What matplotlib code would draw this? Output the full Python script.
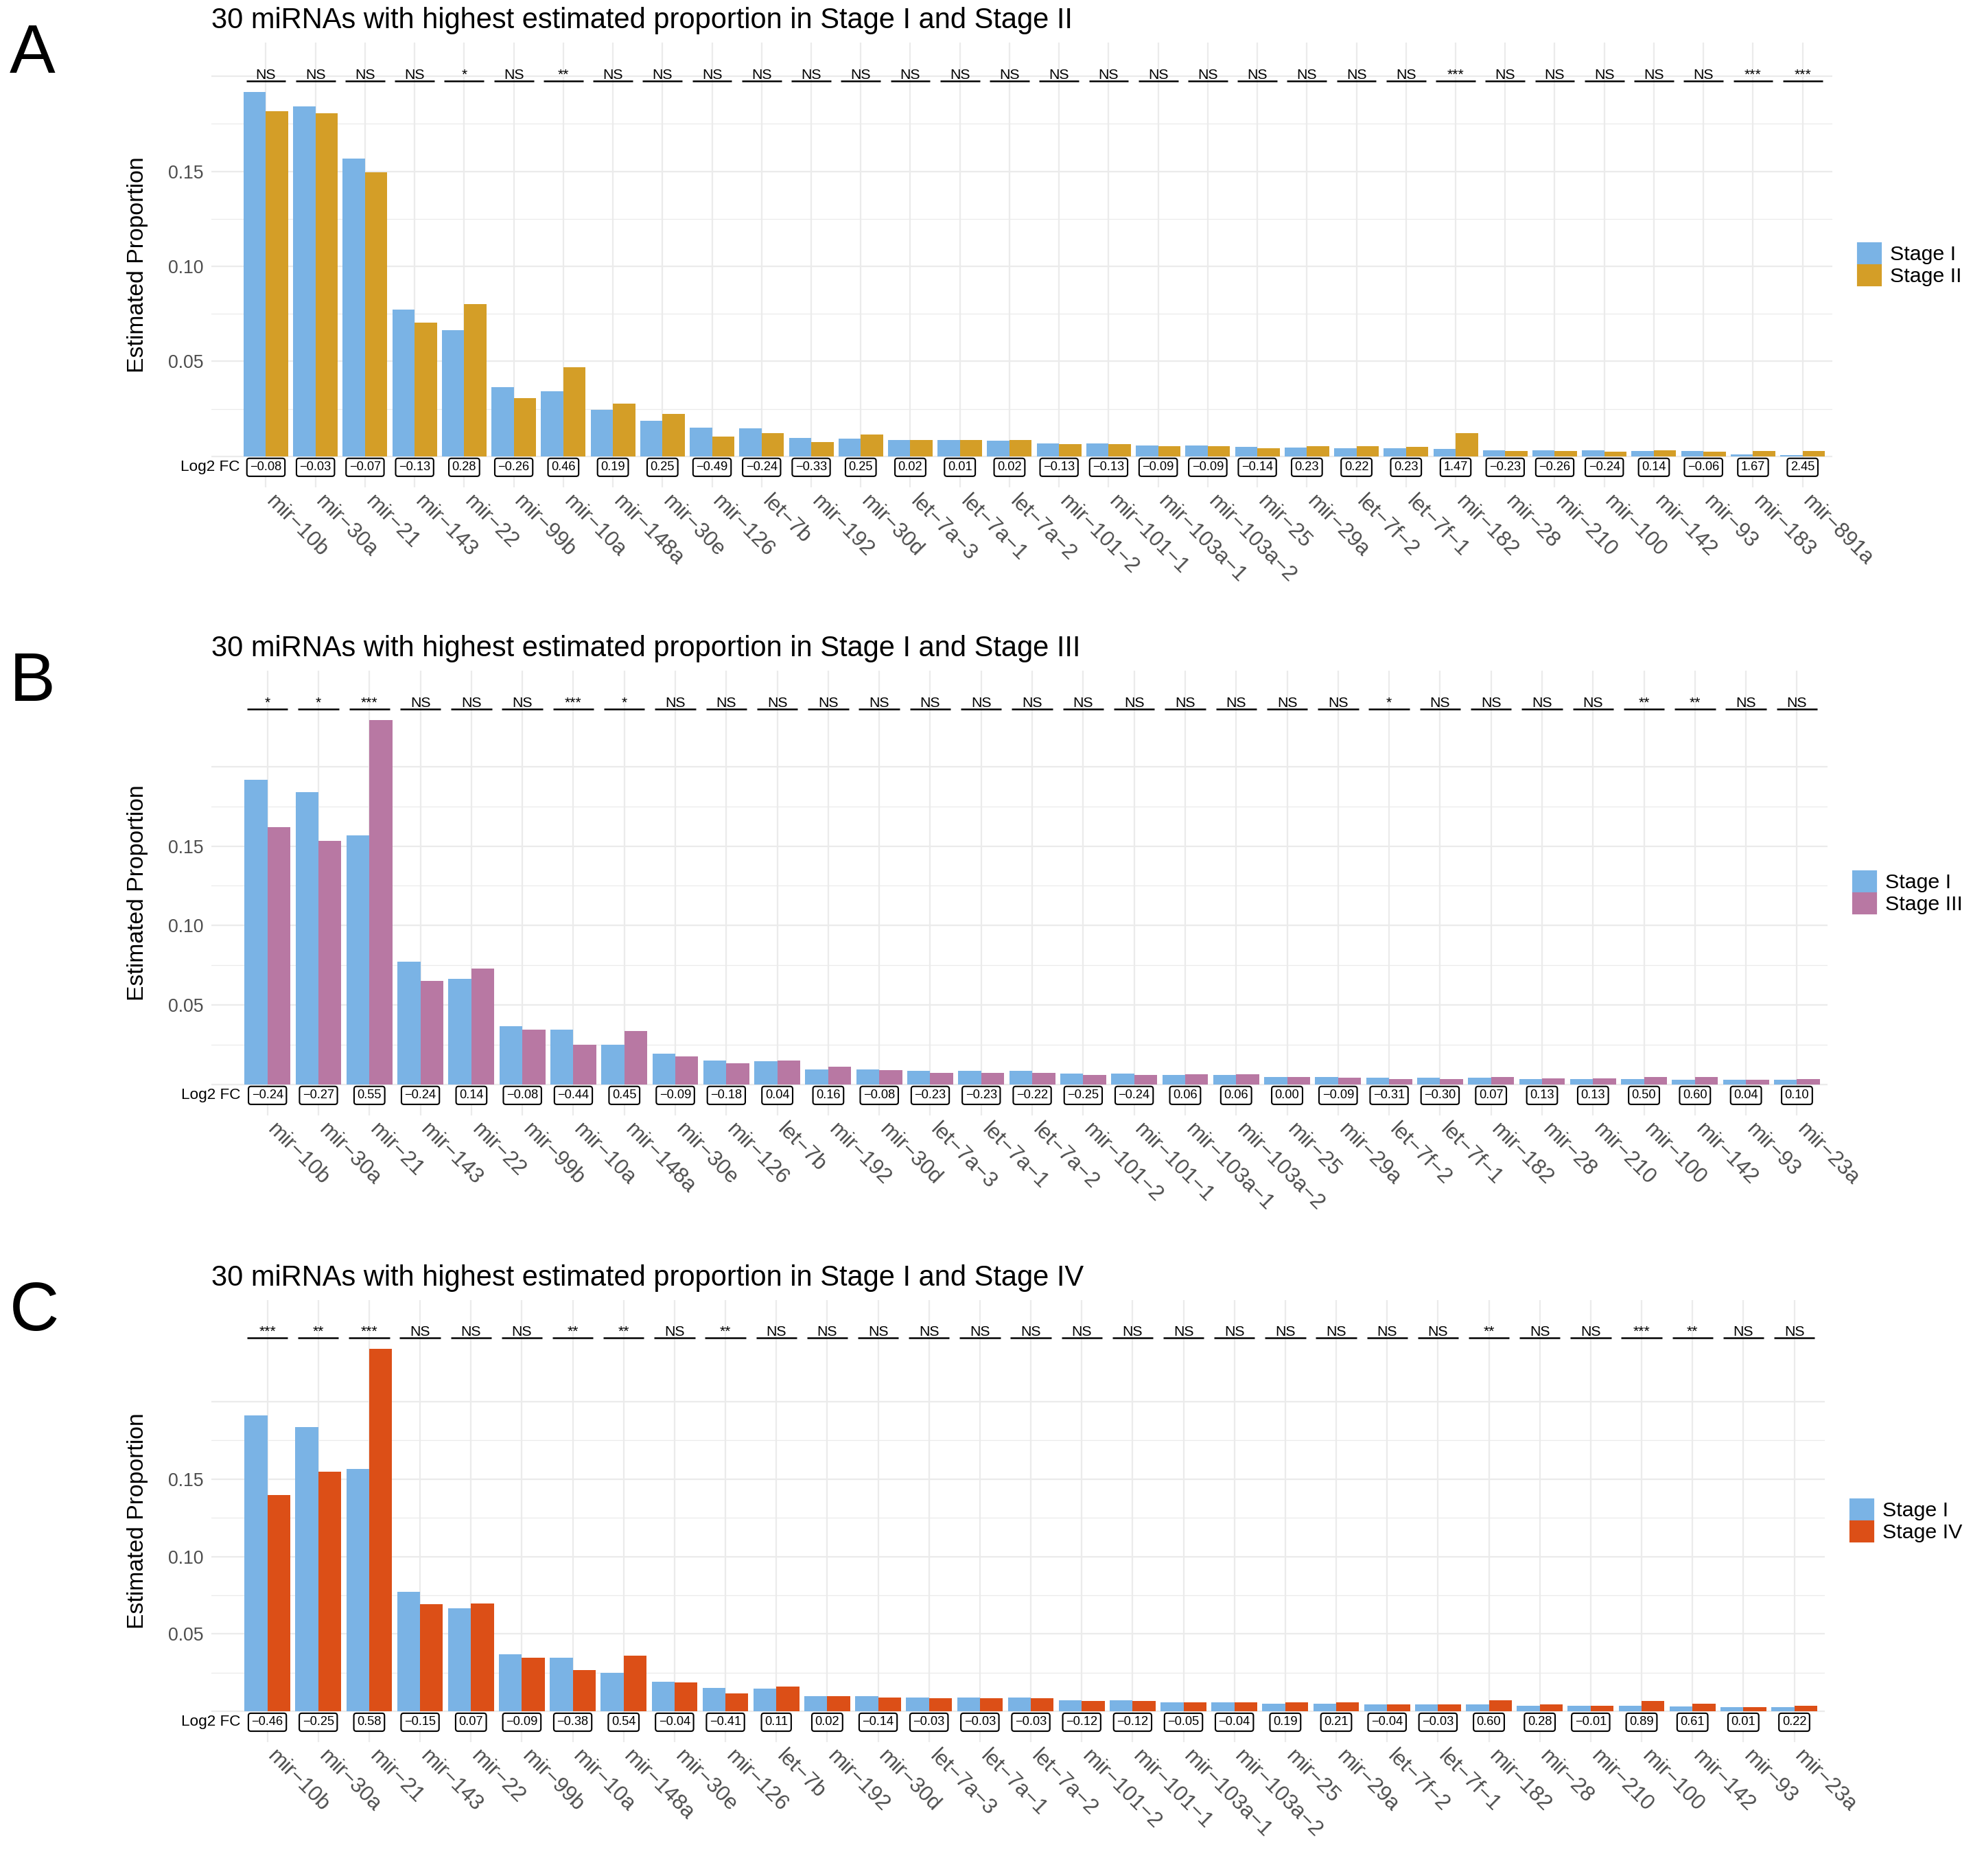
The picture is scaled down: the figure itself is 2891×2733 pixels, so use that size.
import matplotlib
matplotlib.use("Agg")
import matplotlib.pyplot as plt
import matplotlib.transforms as mtransforms
from matplotlib.patches import Patch

plt.rcParams["font.family"] = ["Liberation Sans", "DejaVu Sans"]

W, H, DPI = 2891, 2733, 300

# --- data -----------------------------------------------------------------
mirs_common = ["mir-10b", "mir-30a", "mir-21", "mir-143", "mir-22", "mir-99b",
               "mir-10a", "mir-148a", "mir-30e", "mir-126", "let-7b", "mir-192",
               "mir-30d", "let-7a-3", "let-7a-1", "let-7a-2", "mir-101-2",
               "mir-101-1", "mir-103a-1", "mir-103a-2", "mir-25", "mir-29a",
               "let-7f-2", "let-7f-1", "mir-182", "mir-28", "mir-210", "mir-100",
               "mir-142", "mir-93"]
mirs_a = mirs_common + ["mir-183", "mir-891a"]
mirs_bc = mirs_common + ["mir-23a"]

stage1_a = [0.1919, 0.1843, 0.1567, 0.0772, 0.0663, 0.0364, 0.0343, 0.0244,
            0.0189, 0.0150, 0.0146, 0.0096, 0.0094, 0.0085, 0.0085, 0.0083,
            0.0069, 0.0069, 0.0057, 0.0057, 0.0049, 0.0047, 0.0043, 0.0043,
            0.0041, 0.0033, 0.0033, 0.0031, 0.0028, 0.0028, 0.0009, 0.0005]
stage2_a = [0.1817, 0.1805, 0.1496, 0.0705, 0.0803, 0.0305, 0.0470, 0.0278,
            0.0224, 0.0106, 0.0122, 0.0077, 0.0114, 0.0085, 0.0085, 0.0085,
            0.0063, 0.0063, 0.0053, 0.0053, 0.0043, 0.0055, 0.0053, 0.0051,
            0.0122, 0.0030, 0.0028, 0.0026, 0.0031, 0.0026, 0.0030, 0.0030]
fc_a = [-0.08, -0.03, -0.07, -0.13, 0.28, -0.26, 0.46, 0.19, 0.25, -0.49,
        -0.24, -0.33, 0.25, 0.02, 0.01, 0.02, -0.13, -0.13, -0.09, -0.09,
        -0.14, 0.23, 0.22, 0.23, 1.47, -0.23, -0.26, -0.24, 0.14, -0.06,
        1.67, 2.45]
sig_a = ["NS", "NS", "NS", "NS", "*", "NS", "**", "NS", "NS", "NS", "NS", "NS",
         "NS", "NS", "NS", "NS", "NS", "NS", "NS", "NS", "NS", "NS", "NS", "NS",
         "***", "NS", "NS", "NS", "NS", "NS", "***", "***"]

stage1_b = [0.1916, 0.1841, 0.1565, 0.0771, 0.0664, 0.0367, 0.0343, 0.0248,
            0.0192, 0.0150, 0.0145, 0.0096, 0.0096, 0.0086, 0.0086, 0.0086,
            0.0070, 0.0070, 0.0061, 0.0061, 0.0049, 0.0049, 0.0044, 0.0044,
            0.0044, 0.0035, 0.0035, 0.0033, 0.0030, 0.0028, 0.0028]
stage3_b = [0.1617, 0.1533, 0.2294, 0.0652, 0.0729, 0.0346, 0.0252, 0.0336,
            0.0178, 0.0133, 0.0150, 0.0110, 0.0089, 0.0072, 0.0072, 0.0072,
            0.0061, 0.0061, 0.0063, 0.0063, 0.0049, 0.0044, 0.0033, 0.0033,
            0.0047, 0.0040, 0.0040, 0.0049, 0.0047, 0.0030, 0.0033]
fc_b = [-0.24, -0.27, 0.55, -0.24, 0.14, -0.08, -0.44, 0.45, -0.09, -0.18,
        0.04, 0.16, -0.08, -0.23, -0.23, -0.22, -0.25, -0.24, 0.06, 0.06,
        0.00, -0.09, -0.31, -0.30, 0.07, 0.13, 0.13, 0.50, 0.60, 0.04, 0.10]
sig_b = ["*", "*", "***", "NS", "NS", "NS", "***", "*", "NS", "NS", "NS", "NS",
         "NS", "NS", "NS", "NS", "NS", "NS", "NS", "NS", "NS", "NS", "*", "NS",
         "NS", "NS", "NS", "**", "**", "NS", "NS"]

stage1_c = [0.1913, 0.1838, 0.1565, 0.0770, 0.0665, 0.0368, 0.0345, 0.0248,
            0.0190, 0.0153, 0.0148, 0.0098, 0.0098, 0.0088, 0.0088, 0.0088,
            0.0073, 0.0073, 0.0060, 0.0060, 0.0050, 0.0050, 0.0045, 0.0045,
            0.0045, 0.0038, 0.0038, 0.0035, 0.0030, 0.0028, 0.0028]
stage4_c = [0.1395, 0.1548, 0.2340, 0.0693, 0.0698, 0.0345, 0.0265, 0.0358,
            0.0185, 0.0115, 0.0160, 0.0100, 0.0088, 0.0085, 0.0085, 0.0085,
            0.0065, 0.0065, 0.0058, 0.0058, 0.0058, 0.0058, 0.0043, 0.0043,
            0.0070, 0.0045, 0.0038, 0.0065, 0.0048, 0.0028, 0.0035]
fc_c = [-0.46, -0.25, 0.58, -0.15, 0.07, -0.09, -0.38, 0.54, -0.04, -0.41,
        0.11, 0.02, -0.14, -0.03, -0.03, -0.03, -0.12, -0.12, -0.05, -0.04,
        0.19, 0.21, -0.04, -0.03, 0.60, 0.28, -0.01, 0.89, 0.61, 0.01, 0.22]
sig_c = ["***", "**", "***", "NS", "NS", "NS", "**", "**", "NS", "**", "NS",
         "NS", "NS", "NS", "NS", "NS", "NS", "NS", "NS", "NS", "NS", "NS", "NS",
         "NS", "**", "NS", "NS", "***", "**", "NS", "NS"]

BLUE = "#7AB3E5"
GOLD = "#D49E27"
PURPLE = "#B878A3"
ORANGE = "#DC4F17"
GRID = "#EBEBEB"


def minus(s):
    # R draws the hyphen as a proper minus sign
    return s.replace("-", "\u2212")


def draw_panel(fig, box, letter, names, s1, s2, fc, sig, lab2, col2):
    left, right, top, bottom = box
    ax = fig.add_axes([left / W, 1 - bottom / H,
                       (right - left) / W, (bottom - top) / H])
    n = len(names)
    xs = list(range(n))
    ymax = max(max(s1), max(s2))

    ax.bar([x - 0.225 for x in xs], s1, width=0.45, color=BLUE, zorder=2)
    ax.bar([x + 0.225 for x in xs], s2, width=0.45, color=col2, zorder=2)

    ax.set_xlim(-1.1, n - 1 + 0.6)
    ax.set_ylim(-0.085 * ymax, 1.135 * ymax)

    ax.set_xticks(xs)
    ax.set_xticklabels([])
    # slanted category labels, first glyph starting right under the tick
    shift = mtransforms.ScaledTranslation(16 / DPI, -6 / DPI,
                                          fig.dpi_scale_trans)
    lab_tr = ax.get_xaxis_transform() + shift
    for x, m in zip(xs, names):
        ax.text(x, 0, minus(m), transform=lab_tr, rotation=-45,
                rotation_mode="anchor", ha="left", va="top", fontsize=7.5,
                color="#4D4D4D", clip_on=False)

    ax.set_yticks([0, 0.05, 0.10, 0.15, 0.20])
    ax.set_yticklabels(["", "0.05", "0.10", "0.15", ""], fontsize=6.4,
                       color="#4D4D4D")
    ax.set_yticks([0.025, 0.075, 0.125, 0.175], minor=True)
    ax.tick_params(axis="both", which="both", length=0)
    ax.tick_params(axis="y", pad=2.8)
    ax.grid(which="major", color=GRID, linewidth=0.55)
    ax.grid(which="minor", axis="y", color=GRID, linewidth=0.3)
    ax.set_axisbelow(True)
    for sp in ax.spines.values():
        sp.set_visible(False)

    ax.set_ylabel("Estimated Proportion", fontsize=8.1)
    ax.yaxis.set_label_coords(-(left - 216) / (right - left), 0.5)

    # significance marks above each pair
    sig_y = 1.03 * ymax
    for x, s in zip(xs, sig):
        ax.plot([x - 0.4, x + 0.4], [sig_y, sig_y], color="black",
                linewidth=0.6, solid_capstyle="butt", zorder=3)
        ax.text(x, sig_y + 0.006 * ymax, s, ha="center", va="baseline",
                fontsize=5.1, zorder=3)

    # log2 fold change boxes under each pair
    fc_y = -0.03 * ymax
    for x, v in zip(xs, fc):
        ax.text(x, fc_y, minus(f"{v:.2f}"), ha="center", va="center",
                fontsize=4.4, zorder=4,
                bbox=dict(boxstyle="round,pad=0.25,rounding_size=0.2",
                          fc="white", ec="black", lw=0.5))
    ax.text(-0.53, fc_y, "Log2 FC", ha="right", va="center", fontsize=5.4)

    handles = [Patch(color=BLUE, label="Stage I"),
               Patch(color=col2, label=lab2)]
    ax.legend(handles=handles, loc="center left",
              bbox_to_anchor=((right - left + 38) / (right - left), 0.5),
              frameon=False, fontsize=7.3, handlelength=1.05,
              handleheight=1.05, handletextpad=0.45, labelspacing=0.05,
              borderpad=0, borderaxespad=0)

    fig.text(left / W, 1 - (top - 21) / H,
             f"30 miRNAs with highest estimated proportion in Stage I and {lab2}",
             fontsize=10, ha="left", va="baseline")
    fig.text(14 / W, 1 - (top + 44) / H, letter, fontsize=24,
             ha="left", va="baseline")
    return ax


def main():
    fig = plt.figure(figsize=(W / DPI, H / DPI), dpi=DPI)
    draw_panel(fig, (308, 2670, 62, 710), "A", mirs_a, stage1_a, stage2_a,
               fc_a, sig_a, "Stage II", GOLD)
    draw_panel(fig, (308, 2663, 977, 1625), "B", mirs_bc, stage1_b, stage3_b,
               fc_b, sig_b, "Stage III", PURPLE)
    draw_panel(fig, (308, 2659, 1894, 2538), "C", mirs_bc, stage1_c, stage4_c,
               fc_c, sig_c, "Stage IV", ORANGE)
    fig.savefig("out.png", dpi=DPI)


if __name__ == "__main__":
    main()
